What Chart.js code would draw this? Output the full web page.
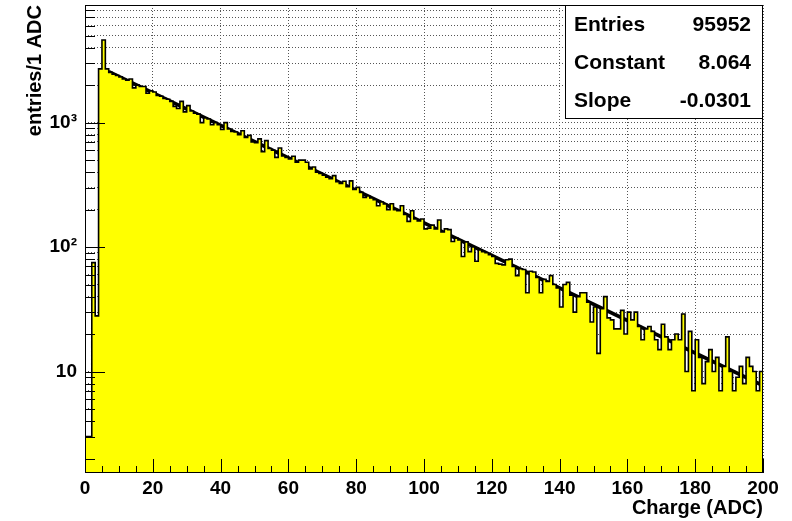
<!DOCTYPE html>
<html>
<head>
<meta charset="utf-8">
<title>Charge (ADC)</title>
<script src="https://cdn.jsdelivr.net/npm/chart.js@4.4.1/dist/chart.umd.min.js"></script>
<style>
  html, body { margin: 0; padding: 0; background: #fff; }
  #wrap { width: 792px; height: 521px; }
</style>
</head>
<body>
<div id="wrap"><canvas id="histChart" width="792" height="521"></canvas></div>
<script>
// 1 ADC bins, 0..200 (entries per bin)
const binCounts = [
    3, 3, 75, 28, 2700, 4610, 2700, 2535, 2450, 2390,
    2330, 2240, 2190, 2240, 1900, 2000, 1950, 1950, 1720, 1800,
    1760, 1650, 1630, 1560, 1540, 1480, 1350, 1300, 1480, 1220,
    1370, 1240, 1190, 1170, 1000, 1090, 1070, 960, 1000, 960,
    880, 1000, 890, 850, 840, 800, 860, 760, 790, 700,
    690, 740, 585, 716, 620, 600, 526, 625, 540, 525,
    510, 537, 480, 500, 500, 480, 425, 440, 400, 390,
    378, 365, 355, 375, 335, 325, 338, 305, 340, 290,
    302, 275, 251, 258, 248, 240, 215, 230, 222, 200,
    223, 200, 196, 215, 183, 161, 196, 168, 162, 168,
    140, 142, 150, 140, 165, 132, 140, 138, 111, 118,
    114, 84, 110, 92, 100, 77, 95, 92, 90, 87,
    84, 74, 73, 72, 79, 80, 70, 59, 67, 66,
    43, 64, 63, 57, 43, 55, 53, 59, 50, 47,
    33, 50, 52, 41, 30, 40, 43, 43, 36, 25,
    33, 14, 32, 40, 27, 26, 22, 22, 31, 20,
    30, 26, 30, 23, 18, 22, 23, 21, 18, 15,
    24, 19, 15, 18, 20, 18, 29, 10, 21, 7,
    18, 13, 8, 12, 15, 10, 13, 7, 11, 19,
    10, 7, 9, 11, 8, 13, 11, 10, 7, 10
];
const binStart = 0;
const binWidth = 1;

// exponential fit, end points (straight on log axis)
const fitX = [7, 200];
const fitY = [2573, 7.72];

// axes
const xRange = [0, 200];
const yRange = [1.53, 8810];
const xLabelTicks = [0, 20, 40, 60, 80, 100, 120, 140, 160, 180, 200];
const xSmallTicks = [5, 10, 15, 25, 30, 35, 45, 50, 55, 65, 70, 75, 85, 90, 95, 105, 110, 115,
    125, 130, 135, 145, 150, 155, 165, 170, 175, 185, 190, 195];
const yTickValues = [2, 3, 4, 5, 6, 7, 8, 9, 10, 20, 30, 40, 50, 60, 70, 80, 90, 100,
    200, 300, 400, 500, 600, 700, 800, 900, 1000, 2000, 3000, 4000, 5000, 6000, 7000, 8000];
const yMajorTicks = [10, 100, 1000];
const yMajorLabels = ['10', '10²', '10³'];

// stats box
const statLabels = ['Entries', 'Constant', 'Slope'];
const statValues = ['95952', '8.064', '-0.0301'];

const FONT = '"Liberation Sans", Arial, Helvetica, sans-serif';

const histPoints = binCounts.map((c, i) => ({x: binStart + i * binWidth, y: c}));
histPoints.push({x: binStart + binCounts.length * binWidth, y: binCounts[binCounts.length - 1]});

const rootFrame = {
    id: 'rootFrame',
    afterDatasetsDraw(chart) {
        const {ctx, chartArea: a, scales: {x, y}} = chart;
        ctx.save();
        ctx.strokeStyle = '#000';
        ctx.lineWidth = 1;
        ctx.beginPath();
        yTickValues.forEach(v => {
            const py = Math.round(y.getPixelForValue(v)) + 0.5;
            const len = yMajorTicks.includes(v) ? 20 : 10;
            ctx.moveTo(a.left, py);
            ctx.lineTo(a.left + len, py);
        });
        xLabelTicks.concat(xSmallTicks).forEach(v => {
            const px = Math.round(x.getPixelForValue(v)) + 0.5;
            const len = xLabelTicks.includes(v) ? 14 : 7;
            ctx.moveTo(px, a.bottom);
            ctx.lineTo(px, a.bottom - len);
        });
        ctx.stroke();
        ctx.strokeRect(a.left + 0.5, a.top + 0.5, a.right - a.left - 1, a.bottom - a.top - 1);

        // stats box
        const bx = 565, by = a.top, bw = a.right - 565, bh = 114;
        ctx.fillStyle = '#fff';
        ctx.fillRect(bx, by, bw, bh);
        ctx.strokeRect(bx + 0.5, by + 0.5, bw - 1, bh - 1);
        ctx.fillStyle = '#000';
        ctx.font = 'bold 21px ' + FONT;
        ctx.textBaseline = 'middle';
        statLabels.forEach((t, i) => {
            const ty = by + bh / 6 + i * bh / 3 + 1;
            ctx.textAlign = 'left';
            ctx.fillText(t, bx + 9, ty);
            ctx.textAlign = 'right';
            ctx.fillText(statValues[i], bx + bw - 12, ty);
        });
        ctx.restore();
    }
};

const ctx = document.getElementById('histChart').getContext('2d');
new Chart(ctx, {
    type: 'line',
    data: {
        datasets: [
            {
                label: 'hist',
                data: histPoints,
                stepped: 'before',
                backgroundColor: '#ffff00',
                borderColor: '#000',
                borderWidth: 1.6,
                fill: 'start',
                pointRadius: 0,
                tension: 0
            },
            {
                label: 'fit',
                data: fitX.map((v, i) => ({x: v, y: fitY[i]})),
                borderColor: '#000',
                borderWidth: 3.6,
                fill: false,
                pointRadius: 0,
                tension: 0
            }
        ]
    },
    options: {
        responsive: false,
        animation: false,
        devicePixelRatio: 1,
        layout: { padding: { top: 5, right: 29, left: 0, bottom: 0 } },
        plugins: {
            legend: { display: false },
            tooltip: { enabled: false }
        },
        scales: {
            x: {
                type: 'linear',
                min: xRange[0],
                max: xRange[1],
                afterFit: s => { s.height = 48; s.paddingLeft = 0; s.paddingRight = 0; },
                afterBuildTicks: s => { s.ticks = xLabelTicks.map(v => ({value: v})); },
                ticks: {
                    autoSkip: false, maxRotation: 0, padding: 4, color: '#000',
                    font: { family: FONT, size: 19, weight: 'bold' },
                    callback: v => String(v)
                },
                grid: { color: '#555', lineWidth: 1, drawTicks: false },
                border: { display: false, dash: [1, 2] },
                title: {
                    display: true, text: 'Charge (ADC)', align: 'end', color: '#000',
                    font: { family: FONT, size: 20, weight: 'bold' },
                    padding: { top: 0, bottom: 1 }
                }
            },
            y: {
                type: 'logarithmic',
                min: yRange[0],
                max: yRange[1],
                afterFit: s => { s.width = 85; s.paddingTop = 0; s.paddingBottom = 0; },
                afterBuildTicks: s => { s.ticks = yTickValues.map(v => ({value: v})); },
                ticks: {
                    autoSkip: false, padding: 8, color: '#000',
                    font: { family: FONT, size: 19, weight: 'bold' },
                    callback: v => {
                        const k = yMajorTicks.indexOf(v);
                        return k >= 0 ? yMajorLabels[k] : '';
                    }
                },
                grid: { color: '#555', lineWidth: 1, drawTicks: false },
                border: { display: false, dash: [1, 2] },
                title: {
                    display: true, text: 'entries/1 ADC', align: 'end', color: '#000',
                    font: { family: FONT, size: 20, weight: 'bold' },
                    padding: { top: 23, bottom: 0 }
                }
            }
        }
    },
    plugins: [rootFrame]
});
</script>
</body>
</html>
